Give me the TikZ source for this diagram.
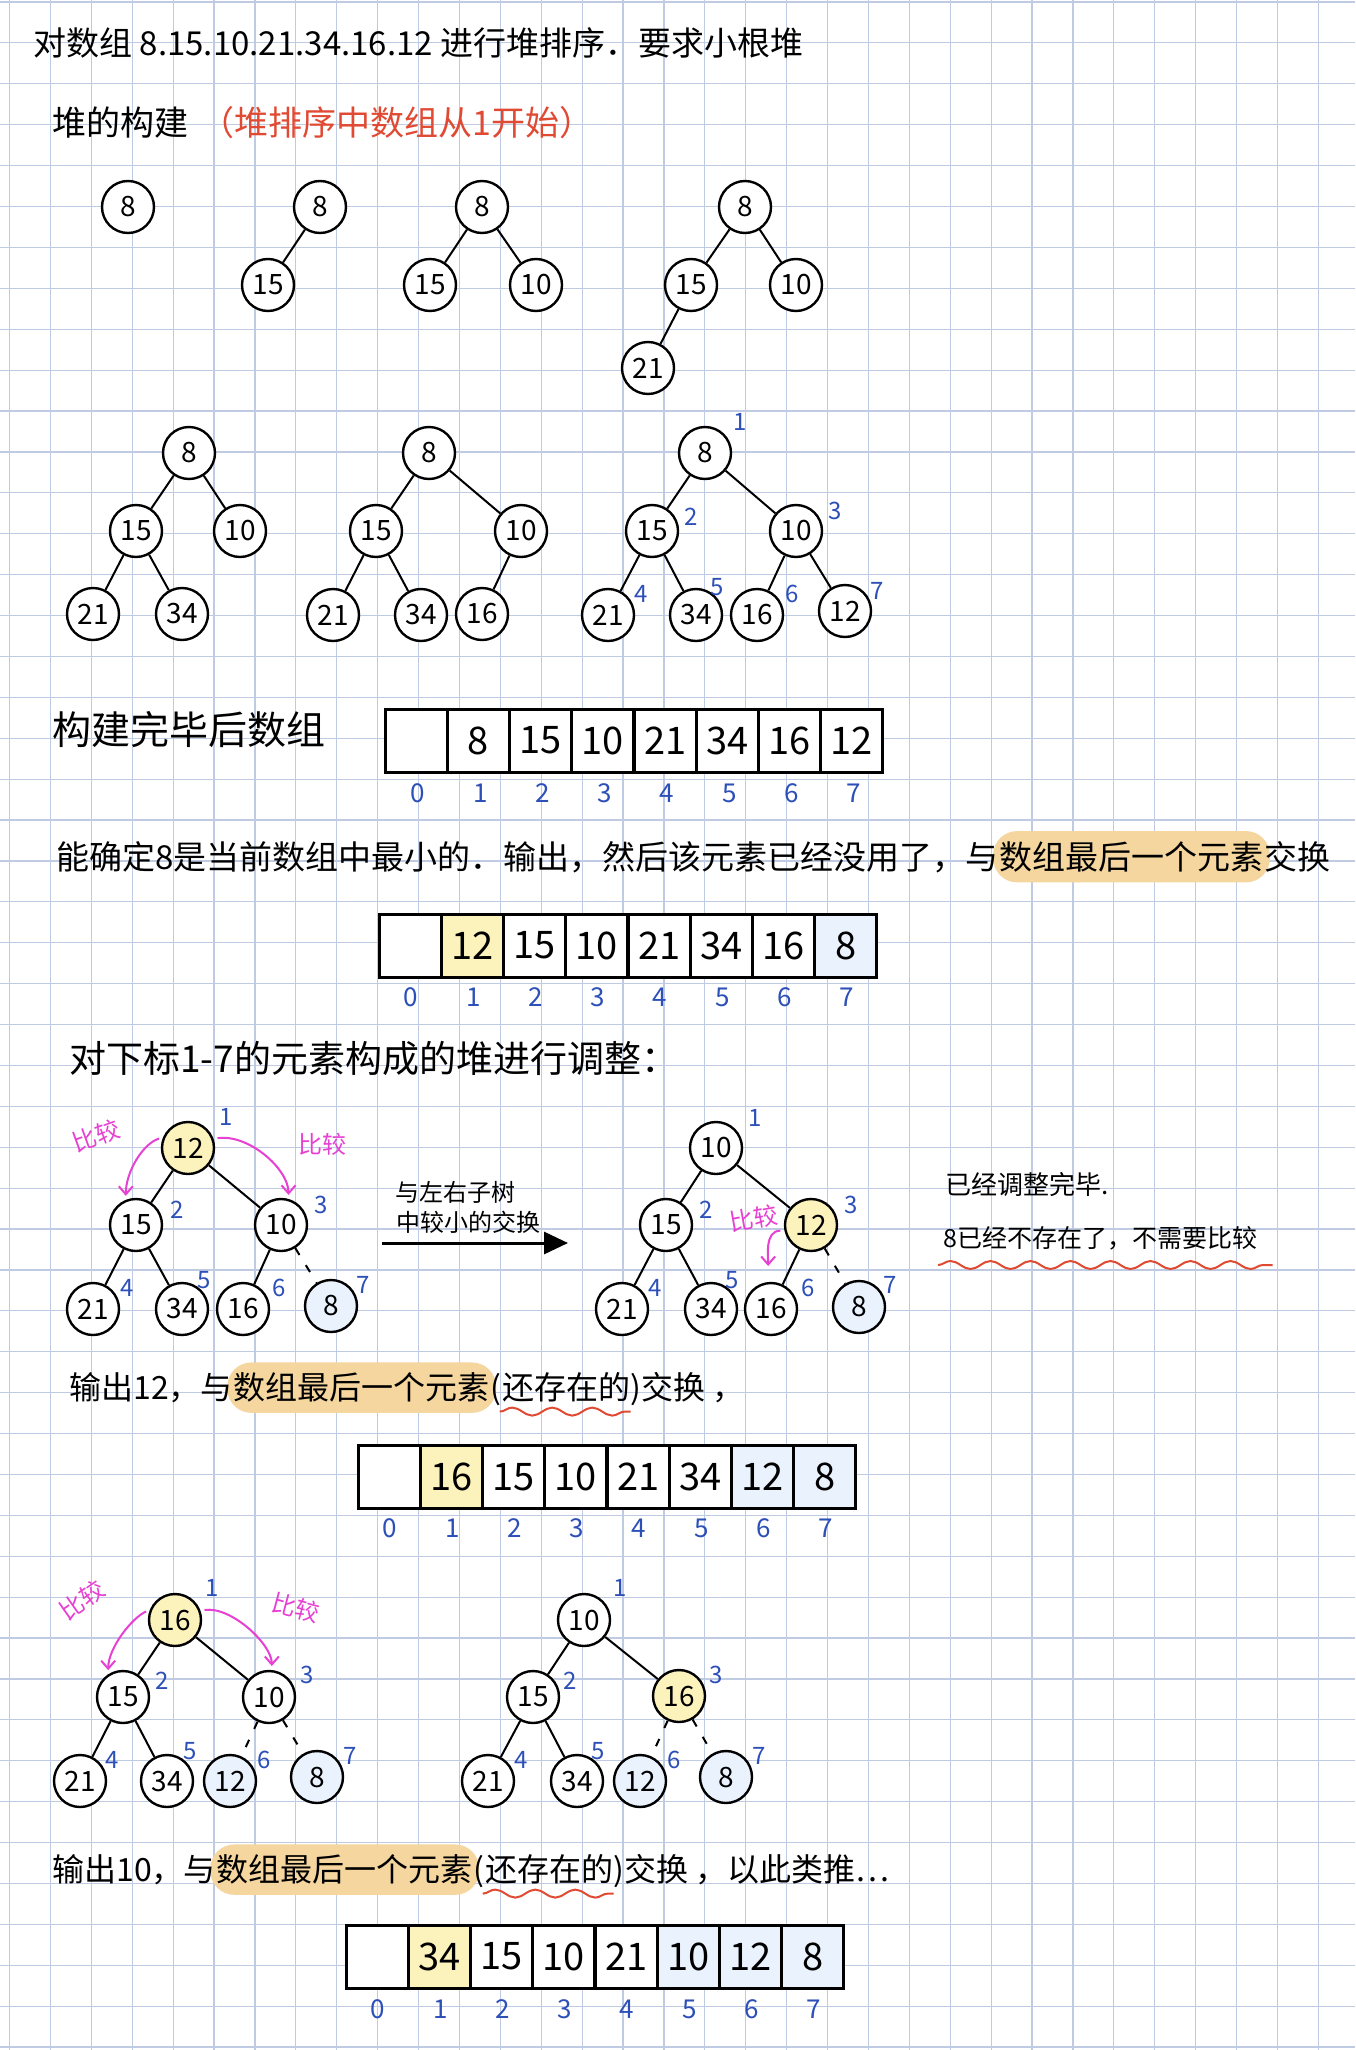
\documentclass[tikz,border=0pt]{standalone}
\usepackage{fontspec}
\setmainfont{Noto Sans CJK SC}
\usetikzlibrary{arrows.meta,decorations.pathmorphing,calc}
\definecolor{gridc}{HTML}{BFCBE2}
\definecolor{idxblue}{HTML}{2C4FB8}
\definecolor{yel}{HTML}{FCF2BC}
\definecolor{lblue}{HTML}{EAF2FD}
\definecolor{hlo}{HTML}{F4D69E}
\definecolor{mag}{HTML}{E641D2}
\definecolor{redt}{HTML}{E04A33}
\pgfdeclarelayer{gridlayer}\pgfdeclarelayer{hllayer}\pgfsetlayers{gridlayer,hllayer,main}
\begin{document}
\begin{tikzpicture}[x=0.5pt,y=-0.5pt,
  tn/.style={circle, draw, line width=1.2pt, fill=white, minimum size=26pt, inner sep=0pt, font=\fontsize{14}{14}\selectfont},
  yn/.style={tn, fill=yel},
  bn/.style={tn, fill=lblue},
  te/.style={line width=1pt},
  de/.style={line width=1pt, dash pattern=on 4pt off 6pt},
  lab/.style={text=idxblue, font=\fontsize{12}{12}\selectfont, inner sep=0pt},
  cell/.style={draw, line width=1.5pt, minimum width=31.1pt, minimum height=31.5pt, inner sep=0pt, font=\fontsize{19}{19}\selectfont},
  idx/.style={text=idxblue, font=\fontsize{13}{13}\selectfont, inner sep=0pt},
  cmp/.style={mag, line width=1pt, -{Straight Barb[length=4pt,width=7pt]}, shorten <=2pt, shorten >=2pt},
  cmpt/.style={text=mag, font=\fontsize{12}{12}\selectfont, inner sep=0pt},
  txt/.style={inner sep=0pt, font=\fontsize{16.5}{16.5}\selectfont},
  chain/.style={txt, anchor=base west},
  wavy/.style={redt, line width=1pt, decorate, decoration={snake, amplitude=2pt, segment length=20pt}},
]
\useasboundingbox (0,0) rectangle (1355,2050);
\begin{pgfonlayer}{gridlayer}
\fill[white] (0,0) rectangle (1355,2050);
\foreach \k in {0,...,32} \draw[gridc, line width=0.6pt] ({9.5+40.9*\k},0) -- ({9.5+40.9*\k},2050);
\foreach \k in {0,...,50} \draw[gridc, line width=0.6pt] (0,{2+40.9*\k}) -- (1355,{2+40.9*\k});
\end{pgfonlayer}

% headings
\node[txt, anchor=west, font=\fontsize{16.5}{16.5}\selectfont] (title) at (33,43) {对数组 8.15.10.21.34.16.12 进行堆排序．要求小根堆};
\node[txt, anchor=west, font=\fontsize{17}{17}\selectfont] (h1) at (52,123) {堆的构建};
\node[txt, anchor=west, text=redt, font=\fontsize{17}{17}\selectfont] (h1r) at (200,123) {（堆排序中数组从1开始）};

% row 1 trees
\node[tn] (a1) at (128,207) {8};
\node[tn] (b1) at (320,207) {8}; \node[tn] (b2) at (268,285) {15};
\draw[te] (b1) -- (b2);
\node[tn] (c1) at (482,207) {8}; \node[tn] (c2) at (430,285) {15}; \node[tn] (c3) at (536,285) {10};
\draw[te] (c1) -- (c2); \draw[te] (c1) -- (c3);
\node[tn] (d1) at (745,207) {8}; \node[tn] (d2) at (691,285) {15}; \node[tn] (d3) at (796,285) {10}; \node[tn] (d4) at (648,368) {21};
\draw[te] (d1) -- (d2); \draw[te] (d1) -- (d3); \draw[te] (d2) -- (d4);

% row 2 trees
\node[tn] (e1) at (189,453) {8}; \node[tn] (e2) at (136,531) {15}; \node[tn] (e3) at (240,531) {10};
\node[tn] (e4) at (93,614) {21}; \node[tn] (e5) at (182,614) {34};
\draw[te] (e1) -- (e2); \draw[te] (e1) -- (e3); \draw[te] (e2) -- (e4); \draw[te] (e2) -- (e5);
\node[tn] (f1) at (429,453) {8}; \node[tn] (f2) at (376,531) {15}; \node[tn] (f3) at (521,531) {10};
\node[tn] (f4) at (333,615) {21}; \node[tn] (f5) at (421,615) {34}; \node[tn] (f6) at (482,614) {16};
\draw[te] (f1) -- (f2); \draw[te] (f1) -- (f3); \draw[te] (f2) -- (f4); \draw[te] (f2) -- (f5); \draw[te] (f3) -- (f6);
\node[tn] (g1) at (705,453) {8}; \node[tn] (g2) at (652,531) {15}; \node[tn] (g3) at (796,531) {10};
\node[tn] (g4) at (608,615) {21}; \node[tn] (g5) at (696,615) {34}; \node[tn] (g6) at (757,615) {16}; \node[tn] (g7) at (845,611) {12};
\draw[te] (g1) -- (g2); \draw[te] (g1) -- (g3); \draw[te] (g2) -- (g4); \draw[te] (g2) -- (g5); \draw[te] (g3) -- (g6); \draw[te] (g3) -- (g7);
\node[lab] (gl1) at (740,422) {1}; \node[lab] (gl2) at (691,517) {2}; \node[lab] (gl3) at (835,511) {3};
\node[lab] (gl4) at (641,594) {4}; \node[lab] (gl5) at (717,587) {5}; \node[lab] (gl6) at (792,594) {6}; \node[lab] (gl7) at (877,591) {7};

% array 1
\node[txt, anchor=west, font=\fontsize{19.5}{19.5}\selectfont] (a1t) at (52,730) {构建完毕后数组};
\foreach \v/\f [count=\i from 0] in {{}/white,8/white,15/white,10/white,21/white,34/white,16/white,12/white}{
  \node[cell, fill=\f] (arA\i) at ({385+62.25*(\i+0.5)},740.5) {\v};
  \node[idx] (ixA\i) at ({387+62.25*(\i+0.5)},793) {\i};
}

% sentence 1
\node[txt, anchor=west] (s1a) at (56,857) {能确定8是当前数组中最小的．输出，然后该元素已经没用了，与};
\node[chain] (s1b) at (s1a.base east) {数组最后一个元素};
\node[chain] (s1c) at (s1b.base east) {交换};
\begin{pgfonlayer}{hllayer}
\fill[hlo, rounded corners=12pt] ([shift={(-6,-10)}]s1b.north west) rectangle ([shift={(6,10)}]s1b.south east);
\end{pgfonlayer}

% array 2
\foreach \v/\f [count=\i from 0] in {{}/white,12/yel,15/white,10/white,21/white,34/white,16/white,8/lblue}{
  \node[cell, fill=\f] (arB\i) at ({379+62.25*(\i+0.5)},945.5) {\v};
  \node[idx] (ixB\i) at ({380+62.25*(\i+0.5)},997) {\i};
}

\node[txt, anchor=west, font=\fontsize{18.5}{18.5}\selectfont] (s1d) at (69,1058) {对下标1-7的元素构成的堆进行调整：};

% tree D
\node[yn] (D1) at (188,1148) {12}; \node[tn] (D2) at (136,1225) {15}; \node[tn] (D3) at (281,1225) {10};
\node[tn] (D4) at (93,1309) {21}; \node[tn] (D5) at (182,1309) {34}; \node[tn] (D6) at (243,1309) {16}; \node[bn] (D7) at (331,1306) {8};
\draw[te] (D1) -- (D2); \draw[te] (D1) -- (D3); \draw[te] (D2) -- (D4); \draw[te] (D2) -- (D5); \draw[te] (D3) -- (D6); \draw[de] (D3) -- (D7);
\node[lab] (Dl1) at (226,1117) {1}; \node[lab] (Dl2) at (177,1210) {2}; \node[lab] (Dl3) at (321,1205) {3};
\node[lab] (Dl4) at (127,1288) {4}; \node[lab] (Dl5) at (204,1280) {5}; \node[lab] (Dl6) at (279,1288) {6}; \node[lab] (Dl7) at (363,1285) {7};
\draw[cmp] (D1.157) .. controls +(-20,6) and +(0,-28) .. (D2.112);
\draw[cmp] (D1.20) .. controls +(35,-5) and +(0,-30) .. (D3.74);
\node[cmpt, rotate=20] (Dc1) at (96,1136) {比较};
\node[cmpt] (Dc2) at (322,1144) {比较};

% middle arrow
\node[txt, font=\fontsize{12}{12}\selectfont] (mt1) at (455,1192) {与左右子树};
\node[txt, font=\fontsize{12}{12}\selectfont] (mt2) at (468,1222) {中较小的交换};
\coordinate (ma) at (382,1243); \coordinate (mb) at (568,1243);
\draw[line width=1.5pt, -{Triangle[length=12pt,width=11pt]}] (ma) -- (mb);

% tree E
\node[tn] (E1) at (716,1148) {10}; \node[tn] (E2) at (666,1225) {15}; \node[yn] (E3) at (811,1225) {12};
\node[tn] (E4) at (622,1309) {21}; \node[tn] (E5) at (711,1309) {34}; \node[tn] (E6) at (771,1309) {16}; \node[bn] (E7) at (859,1307) {8};
\draw[te] (E1) -- (E2); \draw[te] (E1) -- (E3); \draw[te] (E2) -- (E4); \draw[te] (E2) -- (E5); \draw[te] (E3) -- (E6); \draw[de] (E3) -- (E7);
\node[lab] (El1) at (755,1118) {1}; \node[lab] (El2) at (706,1210) {2}; \node[lab] (El3) at (851,1205) {3};
\node[lab] (El4) at (655,1288) {4}; \node[lab] (El5) at (732,1280) {5}; \node[lab] (El6) at (808,1288) {6}; \node[lab] (El7) at (890,1285) {7};
\draw[cmp, shorten >=8pt] (E3.192) .. controls +(-20,0) and +(0,-25) .. (E6.96);
\node[cmpt, rotate=10] (Ec1) at (754,1218) {比较};

% right notes
\node[txt, anchor=west, font=\fontsize{13}{13}\selectfont] (rt1) at (945,1185) {已经调整完毕.};
\node[txt, anchor=west, font=\fontsize{12.5}{12.5}\selectfont] (rt2) at (943,1238) {8已经不存在了，不需要比较};
\draw[wavy] ([shift={(-5,27)}]rt2.west) -- ([shift={(15,27)}]rt2.east);

% sentence 2
\node[txt, anchor=west, font=\fontsize{16}{16}\selectfont] (s2a) at (69,1388) {输出12，与};
\node[chain, font=\fontsize{16}{16}\selectfont] (s2b) at (s2a.base east) {数组最后一个元素};
\node[chain, font=\fontsize{16}{16}\selectfont] (s2c) at (s2b.base east) {(};
\node[chain, font=\fontsize{16}{16}\selectfont] (s2d) at (s2c.base east) {还存在的};
\node[chain, font=\fontsize{16}{16}\selectfont] (s2e) at (s2d.base east) {)交换 ，};
\begin{pgfonlayer}{hllayer}
\fill[hlo, rounded corners=12pt] ([shift={(-6,-10)}]s2b.north west) rectangle ([shift={(6,10)}]s2b.south east);
\end{pgfonlayer}
\draw[wavy] ([shift={(-2,24)}]s2d.west) -- ([shift={(0,24)}]s2d.east);

% array 3
\foreach \v/\f [count=\i from 0] in {{}/white,16/yel,15/white,10/white,21/white,34/white,12/lblue,8/lblue}{
  \node[cell, fill=\f] (arC\i) at ({358+62.25*(\i+0.5)},1477) {\v};
  \node[idx] (ixC\i) at ({359+62.25*(\i+0.5)},1528) {\i};
}

% tree F
\node[yn] (F1) at (175,1620) {16}; \node[tn] (F2) at (123,1697) {15}; \node[tn] (F3) at (269,1697) {10};
\node[tn] (F4) at (80,1781) {21}; \node[tn] (F5) at (167,1781) {34}; \node[bn] (F6) at (230,1781) {12}; \node[bn] (F7) at (317,1777) {8};
\draw[te] (F1) -- (F2); \draw[te] (F1) -- (F3); \draw[te] (F2) -- (F4); \draw[te] (F2) -- (F5); \draw[de] (F3) -- (F6); \draw[de] (F3) -- (F7);
\node[lab] (Fl1) at (212,1588) {1}; \node[lab] (Fl2) at (162,1681) {2}; \node[lab] (Fl3) at (307,1675) {3};
\node[lab] (Fl4) at (112,1760) {4}; \node[lab] (Fl5) at (190,1751) {5}; \node[lab] (Fl6) at (264,1760) {6}; \node[lab] (Fl7) at (350,1756) {7};
\draw[cmp] (F1.158) .. controls +(-18,8) and +(0,-26) .. (F2.123);
\draw[cmp] (F1.20) .. controls +(30,-5) and +(0,-26) .. (F3.84);
\node[cmpt, rotate=35] (Fc1) at (82,1600) {比较};
\node[cmpt, rotate=-15] (Fc2) at (296,1608) {比较};

% tree G
\node[tn] (G1) at (584,1620) {10}; \node[tn] (G2) at (533,1697) {15}; \node[yn] (G3) at (679,1696) {16};
\node[tn] (G4) at (488,1781) {21}; \node[tn] (G5) at (577,1781) {34}; \node[bn] (G6) at (640,1781) {12}; \node[bn] (G7) at (726,1777) {8};
\draw[te] (G1) -- (G2); \draw[te] (G1) -- (G3); \draw[te] (G2) -- (G4); \draw[te] (G2) -- (G5); \draw[de] (G3) -- (G6); \draw[de] (G3) -- (G7);
\node[lab] (Gl1) at (620,1588) {1}; \node[lab] (Gl2) at (570,1681) {2}; \node[lab] (Gl3) at (716,1675) {3};
\node[lab] (Gl4) at (521,1760) {4}; \node[lab] (Gl5) at (598,1751) {5}; \node[lab] (Gl6) at (674,1760) {6}; \node[lab] (Gl7) at (759,1756) {7};

% sentence 3
\node[txt, anchor=west, font=\fontsize{16}{16}\selectfont] (s3a) at (52,1870) {输出10，与};
\node[chain, font=\fontsize{16}{16}\selectfont] (s3b) at (s3a.base east) {数组最后一个元素};
\node[chain, font=\fontsize{16}{16}\selectfont] (s3c) at (s3b.base east) {(};
\node[chain, font=\fontsize{16}{16}\selectfont] (s3d) at (s3c.base east) {还存在的};
\node[chain, font=\fontsize{16}{16}\selectfont] (s3e) at (s3d.base east) {)交换 ，以此类推…};
\begin{pgfonlayer}{hllayer}
\fill[hlo, rounded corners=12pt] ([shift={(-6,-10)}]s3b.north west) rectangle ([shift={(6,10)}]s3b.south east);
\end{pgfonlayer}
\draw[wavy] ([shift={(-2,24)}]s3d.west) -- ([shift={(0,24)}]s3d.east);

% array 4
\foreach \v/\f [count=\i from 0] in {{}/white,34/yel,15/white,10/white,21/white,10/lblue,12/lblue,8/lblue}{
  \node[cell, fill=\f] (arD\i) at ({346+62.25*(\i+0.5)},1956.5) {\v};
  \node[idx] (ixD\i) at ({347+62.25*(\i+0.5)},2009) {\i};
}
\end{tikzpicture}
\end{document}
